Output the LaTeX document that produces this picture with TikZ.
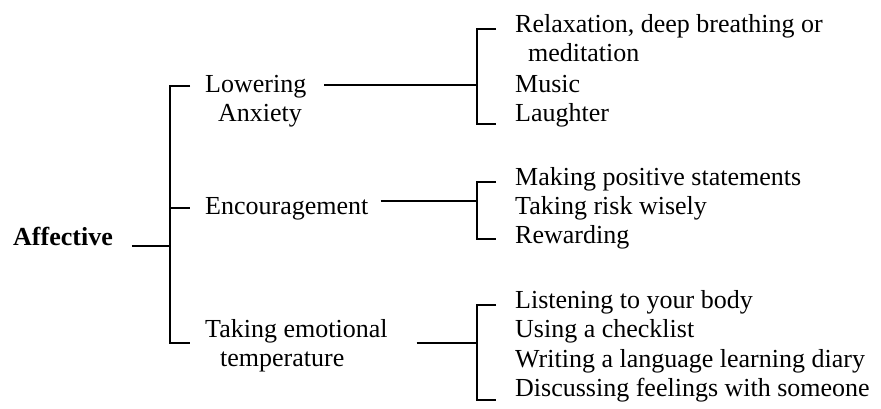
\documentclass[tikz,border=0pt]{standalone}
\usepackage{fontspec}
\setmainfont{Liberation Serif}
\begin{document}
\begin{tikzpicture}[x=1pt,y=-1pt,
  lbl/.style={anchor=base west, inner sep=0pt, align=left,
              font=\fontsize{26}{29.7}\selectfont},
  root/.style={lbl, font=\fontsize{26}{29.7}\selectfont\bfseries},
  wire/.style={line width=1.8pt}]
\useasboundingbox (0,0) rectangle (881,408);

% root and second level (base anchor sits on the last line)
\node[root] (aff) at (13,245) {Affective};
\node[lbl] (low) at (205,121.7) {Lowering\\\hspace*{13pt}Anxiety};
\node[lbl] (enc) at (205,214) {Encouragement};
\node[lbl] (tak) at (205,366.7) {Taking emotional\\\hspace*{15pt}temperature};

% third level
\node[lbl] (relax)  at (515,61.7) {Relaxation, deep breathing or\\\hspace*{13pt}meditation};
\node[lbl] (music)  at (515,92)  {Music};
\node[lbl] (laugh)  at (515,121) {Laughter};
\node[lbl] (make)   at (515,185) {Making positive statements};
\node[lbl] (risk)   at (515,214) {Taking risk wisely};
\node[lbl] (rew)    at (515,243) {Rewarding};
\node[lbl] (listen) at (515,308) {Listening to your body};
\node[lbl] (check)  at (515,337) {Using a checklist};
\node[lbl] (diary)  at (515,367) {Writing a language learning diary};
\node[lbl] (feel)   at (515,396) {Discussing feelings with someone};

% joints of the brackets
\coordinate (m1) at (170,86);
\coordinate (m2) at (170,208);
\coordinate (m3) at (170,343);
\coordinate (mr) at (170,246);
\coordinate (b1) at (477,85);
\coordinate (b2) at (477,201);
\coordinate (b3) at (477,343);
\coordinate (r1t) at (477,29);
\coordinate (r1b) at (477,124);
\coordinate (r2t) at (477,182);
\coordinate (r2b) at (477,239);
\coordinate (r3t) at (477,305);
\coordinate (r3b) at (477,400);

% main bracket
\draw[wire, shorten <=15pt, shorten >=15pt] (m1 -| low.west) -- (m1) -- (m3) -- (m3 -| tak.west);
\draw[wire, shorten >=15pt] (m2) -- (m2 -| enc.west);
\draw[wire, shorten <=19pt] (mr -| aff.east) -- (mr);

% links to the sub-brackets
\draw[wire, shorten <=18pt] (b1 -| low.east) -- (b1);
\draw[wire, shorten <=12pt] (b2 -| enc.east) -- (b2);
\draw[wire, shorten <=29pt] (b3 -| tak.east) -- (b3);

% sub-brackets
\draw[wire, shorten <=19pt, shorten >=19pt] (r1t -| relax.west) -- (r1t) -- (r1b) -- (r1b -| laugh.west);
\draw[wire, shorten <=19pt, shorten >=19pt] (r2t -| make.west) -- (r2t) -- (r2b) -- (r2b -| rew.west);
\draw[wire, shorten <=19pt, shorten >=19pt] (r3t -| listen.west) -- (r3t) -- (r3b) -- (r3b -| feel.west);
\end{tikzpicture}
\end{document}
